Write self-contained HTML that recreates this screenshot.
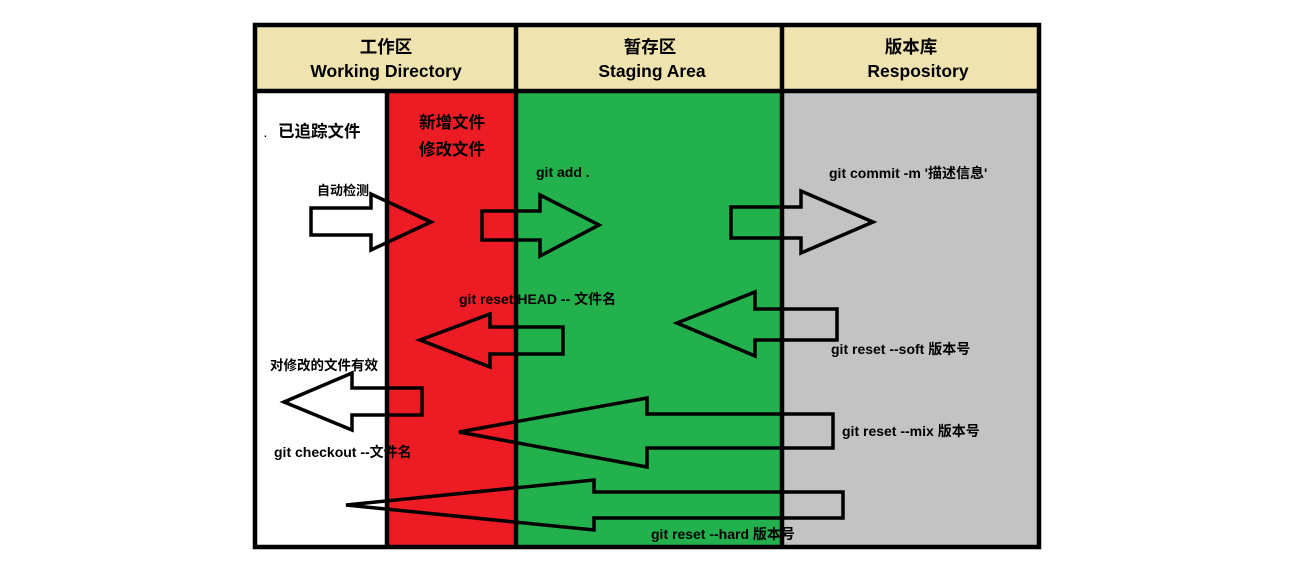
<!DOCTYPE html>
<html><head><meta charset="utf-8"><style>
html,body{margin:0;padding:0;background:#fff;width:1293px;height:570px;overflow:hidden}
svg{display:block}
text{font-family:"Liberation Sans","Noto Sans CJK SC",sans-serif;font-weight:bold;fill:#000}
</style></head><body>
<svg width="1293" height="570" viewBox="0 0 1293 570" xmlns="http://www.w3.org/2000/svg">
<rect x="255" y="25" width="784" height="522" fill="#fff"/>
<rect x="255" y="25" width="784" height="66" fill="#EFE4B0"/>
<rect x="387" y="91" width="129" height="456" fill="#ED1C24"/>
<rect x="516" y="91" width="266" height="456" fill="#22B14C"/>
<rect x="782" y="91" width="257" height="456" fill="#C3C3C3"/>
<g stroke="#000" stroke-width="4.5" fill="none">
<rect x="255" y="25" width="784" height="522"/>
<line x1="255" y1="91" x2="1041" y2="91"/>
<line x1="516" y1="25" x2="516" y2="547"/>
<line x1="782" y1="25" x2="782" y2="547"/>
<line x1="387" y1="91" x2="387" y2="547"/>
</g>
<g stroke="#000" stroke-width="3.5" fill="none" stroke-linejoin="miter">
<polygon points="311,208 371,208 371,194 431,222 371,250 371,235 311,235"/>
<polygon points="482,211 540,211 540,195 599,225 540,256 540,240 482,240"/>
<polygon points="731,207 801,207 801,191 873,222 801,253 801,238 731,238"/>
<polygon points="563,327 490,327 490,314 420,340 490,367 490,354 563,354"/>
<polygon points="422,388 352,388 352,373 284,402 352,430 352,415 422,415"/>
<polygon points="837,309 755,309 755,292 677,323 755,356 755,340 837,340"/>
<polygon points="833,414 647,414 647,398 459,432 647,467 647,448 833,448"/>
<polygon points="843,492 594,492 594,480 346,505 594,530 594,518 843,518"/>
</g>
<g font-size="17.5" text-anchor="middle">
<text x="386" y="53">工作区</text>
<text x="386" y="77">Working Directory</text>
<text x="650" y="53">暂存区</text>
<text x="652" y="77">Staging Area</text>
<text x="911" y="53">版本库</text>
<text x="918" y="77">Respository</text>
</g>
<text x="264" y="137" font-size="10">.</text>
<text x="278" y="137" font-size="16.5">已追踪文件</text>
<text x="419" y="128" font-size="16.5">新增文件</text>
<text x="419" y="155" font-size="16.5">修改文件</text>
<g font-size="14">
<text x="317" y="195" font-size="13">自动检测</text>
<text x="536" y="177">git add .</text>
<text x="829" y="178">git commit -m '描述信息'</text>
<text x="459" y="304">git reset HEAD -- 文件名</text>
<text x="831" y="354">git reset --soft 版本号</text>
<text x="270" y="370" font-size="13.5">对修改的文件有效</text>
<text x="842" y="436">git reset --mix 版本号</text>
<text x="274" y="457">git checkout --文件名</text>
<text x="651" y="539">git reset --hard 版本号</text>
</g>
</svg>
</body></html>
